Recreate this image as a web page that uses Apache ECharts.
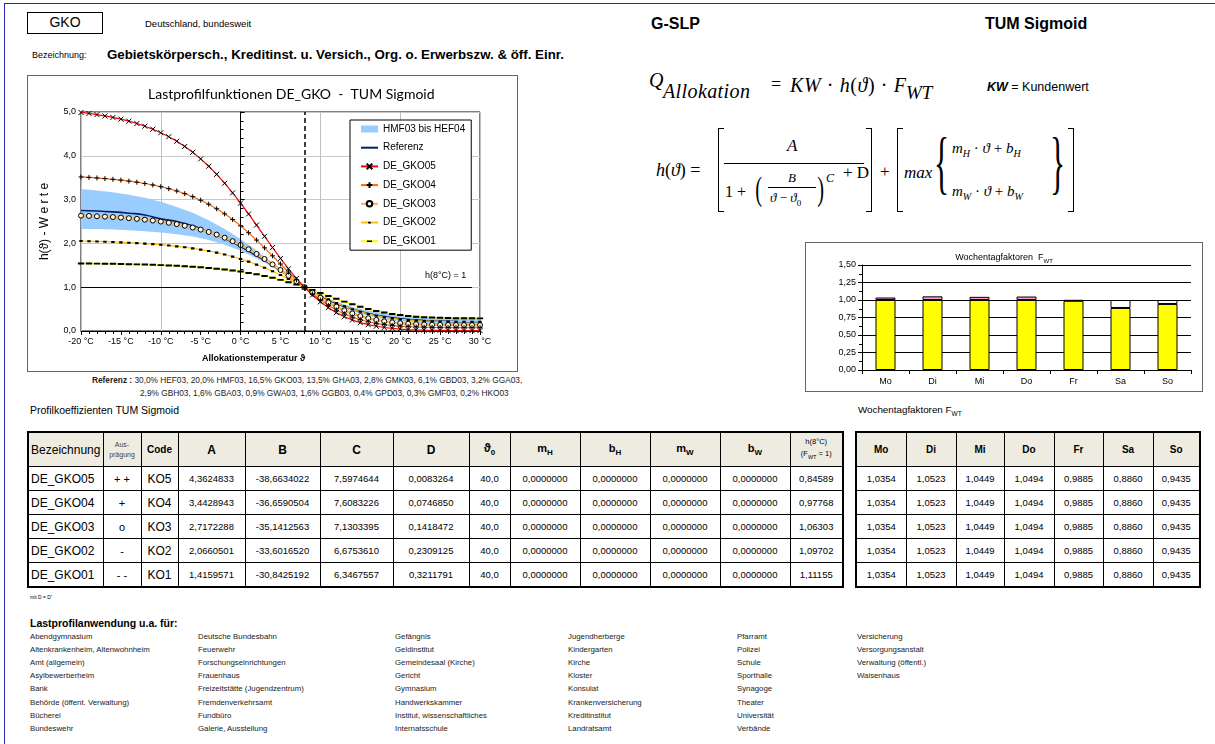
<!DOCTYPE html>
<html lang="de">
<head>
<meta charset="utf-8">
<script src="https://cdn.jsdelivr.net/npm/echarts@6/dist/echarts.min.js"></script>
<style>
html,body{margin:0;padding:0;}
body{width:1215px;height:744px;position:relative;background:#fff;font-family:"Liberation Sans",Arial,sans-serif;color:#000;overflow:hidden;}
.a{position:absolute;white-space:nowrap;line-height:1;}
.m{font-family:"Liberation Serif","DejaVu Serif",serif;font-style:italic;}
.u{font-style:normal;}
.brk{position:absolute;border:1.5px solid #000;width:6px;box-sizing:border-box;}
.bl{border-right:none;}
.br{border-left:none;}
table.t{border-collapse:collapse;table-layout:fixed;position:absolute;border:2px solid #000;}
table.t td{border:1px solid #000;text-align:center;vertical-align:middle;padding:0;overflow:hidden;white-space:nowrap;}
table.t tr.h td{background:#EEECE1;height:33px;}
table.t tr.b td{height:23px;}
</style>
</head>
<body>
<div class="a" style="left:4px;top:3px;width:1211px;height:0;border-top:1.5px solid #2b2bb0;"></div>
<div class="a" style="left:4px;top:3px;width:0;height:741px;border-left:1.5px solid #2b2bb0;"></div>

<div class="a" style="left:27px;top:12px;width:76px;height:22px;box-sizing:border-box;border:1.5px solid #000;font-size:14px;text-align:center;line-height:19px;">GKO</div>
<div class="a" style="left:145px;top:19px;font-size:9.5px;">Deutschland, bundesweit</div>
<div class="a" style="left:32px;top:51px;font-size:9px;">Bezeichnung:</div>
<div class="a" style="left:107px;top:48px;font-size:13.3px;font-weight:bold;">Gebietskörpersch., Kreditinst. u. Versich., Org. o. Erwerbszw. &amp; öff. Einr.</div>

<div class="a" style="left:651px;top:16px;font-size:16px;font-weight:bold;">G-SLP</div>
<div class="a" style="left:985px;top:16px;font-size:16px;font-weight:bold;">TUM Sigmoid</div>

<!-- Q formula -->
<div class="a m" style="left:649px;top:70px;font-size:20px;">Q</div>
<div class="a m" style="left:663px;top:81px;font-size:20px;letter-spacing:0.4px;">Allokation</div>
<div class="a m u" style="left:771px;top:75px;font-size:18px;">=</div>
<div class="a m" style="left:790px;top:75px;font-size:20px;letter-spacing:0.6px;">KW <span class="u">·</span> h<span class="u">(</span>ϑ<span class="u">)</span> <span class="u">·</span> F</div>
<div class="a m" style="left:906px;top:83px;font-size:19px;">WT</div>
<div class="a" style="left:987px;top:81px;font-size:12.5px;"><b><i>KW</i></b> = Kundenwert</div>

<!-- h formula -->
<div class="a m" style="left:656px;top:161px;font-size:18px;">h<span class="u">(</span>ϑ<span class="u">) =</span></div>
<div class="brk bl" style="left:718px;top:128px;height:84px;"></div>
<div class="a m" style="left:787px;top:137px;font-size:17px;">A</div>
<div class="a" style="left:724px;top:163px;width:140px;height:0;border-top:1px solid #000;"></div>
<div class="a m u" style="left:725px;top:184px;font-size:16px;">1 +</div>
<div class="a m u" style="left:753px;top:172px;font-size:34px;transform:scaleX(0.6);">(</div>
<div class="a m" style="left:788px;top:171px;font-size:13px;">B</div>
<div class="a" style="left:768px;top:187px;width:48px;height:0;border-top:1px solid #000;"></div>
<div class="a m" style="left:770px;top:191px;font-size:13px;">ϑ <span class="u">−</span> ϑ<sub style="font-size:9px;font-style:normal">0</sub></div>
<div class="a m u" style="left:815px;top:172px;font-size:34px;transform:scaleX(0.6);">)</div>
<div class="a m" style="left:826px;top:172px;font-size:12px;">C</div>
<div class="a m u" style="left:843px;top:164px;font-size:17px;">+ D</div>
<div class="brk br" style="left:866px;top:128px;height:84px;"></div>
<div class="a m u" style="left:880px;top:163px;font-size:17px;">+</div>
<div class="brk bl" style="left:897px;top:128px;height:84px;"></div>
<div class="a m" style="left:904px;top:164px;font-size:17px;">max</div>
<div class="a m u" style="left:934px;top:128px;font-size:70px;transform:scaleX(0.45);transform-origin:left top;">{</div>
<div class="a m" style="left:952px;top:141px;font-size:15px;">m<sub style="font-size:10px">H</sub> <span class="u">·</span> ϑ <span class="u">+</span> b<sub style="font-size:10px">H</sub></div>
<div class="a m" style="left:952px;top:184px;font-size:15px;">m<sub style="font-size:10px">W</sub> <span class="u">·</span> ϑ <span class="u">+</span> b<sub style="font-size:10px">W</sub></div>
<div class="a m u" style="left:1050px;top:128px;font-size:70px;transform:scaleX(0.45);transform-origin:left top;">}</div>
<div class="brk br" style="left:1068px;top:128px;height:84px;"></div>

<!-- main chart -->
<div class="a" style="left:27px;top:75px;width:491px;height:297px;box-sizing:border-box;border:1.5px solid #666;"></div>
<div id="mainChart" class="a" style="left:28px;top:75px;width:490px;height:297px;"></div>

<div class="a" style="left:92px;top:376px;font-size:8.3px;color:#222;"><b>Referenz :</b> 30,0% HEF03, 20,0% HMF03, 16,5% GKO03, 13,5% GHA03, 2,8% GMK03, 6,1% GBD03, 3,2% GGA03,</div>
<div class="a" style="left:140px;top:389px;font-size:8.3px;color:#222;">2,9% GBH03, 1,6% GBA03, 0,9% GWA03, 1,6% GGB03, 0,4% GPD03, 0,3% GMF03, 0,2% HKO03</div>
<div class="a" style="left:30px;top:405px;font-size:10.5px;">Profilkoeffizienten TUM Sigmoid</div>

<!-- bar chart -->
<div class="a" style="left:805px;top:242px;width:398px;height:150px;box-sizing:border-box;border:1.5px solid #666;"></div>
<div id="barChart" class="a" style="left:805px;top:242px;width:398px;height:150px;"></div>
<div class="a" style="left:858px;top:405px;font-size:9.8px;">Wochentagfaktoren F<sub style="font-size:6.5px">WT</sub></div>

<div id="tables"></div>
<div class="a" style="left:30px;top:595px;font-size:5px;">mit D = D'</div>
<div class="a" style="left:30px;top:618px;font-size:10.5px;font-weight:bold;">Lastprofilanwendung u.a. für:</div>
<div id="uses"></div>

<script>
// ---------- data: main chart ----------
const temps = [-20,-19,-18,-17,-16,-15,-14,-13,-12,-11,-10,-9,-8,-7,-6,-5,-4,-3,-2,-1,0,1,2,3,4,5,6,7,8,9,10,11,12,13,14,15,16,17,18,19,20,21,22,23,24,25,26,27,28,29,30];
const gko05 = [4.990,4.967,4.941,4.910,4.876,4.836,4.790,4.737,4.676,4.607,4.527,4.436,4.332,4.214,4.080,3.930,3.762,3.577,3.374,3.154,2.920,2.673,2.419,2.162,1.906,1.657,1.421,1.201,1.000,0.821,0.665,0.531,0.419,0.326,0.251,0.191,0.144,0.108,0.080,0.059,0.044,0.033,0.025,0.020,0.016,0.014,0.012,0.011,0.011,0.010,0.010];
const gko04 = [3.517,3.506,3.494,3.480,3.463,3.444,3.422,3.397,3.368,3.334,3.295,3.249,3.197,3.136,3.066,2.986,2.895,2.791,2.675,2.545,2.401,2.244,2.076,1.899,1.716,1.530,1.346,1.168,1.000,0.845,0.706,0.583,0.478,0.390,0.317,0.258,0.211,0.175,0.147,0.127,0.111,0.100,0.092,0.087,0.083,0.080,0.079,0.078,0.077,0.077,0.077];
const gko03 = [2.634,2.628,2.620,2.611,2.601,2.589,2.575,2.560,2.542,2.522,2.498,2.471,2.440,2.404,2.363,2.315,2.261,2.200,2.130,2.051,1.963,1.866,1.759,1.644,1.521,1.393,1.262,1.130,1.000,0.875,0.759,0.652,0.556,0.472,0.401,0.341,0.292,0.252,0.221,0.197,0.179,0.165,0.155,0.148,0.143,0.139,0.137,0.136,0.135,0.134,0.134];
const gko02 = [2.055,2.051,2.046,2.040,2.034,2.026,2.018,2.008,1.997,1.984,1.970,1.953,1.934,1.913,1.888,1.859,1.827,1.790,1.747,1.699,1.646,1.585,1.518,1.445,1.365,1.280,1.189,1.095,1.000,0.905,0.812,0.723,0.641,0.565,0.498,0.440,0.391,0.349,0.316,0.289,0.268,0.252,0.239,0.230,0.224,0.219,0.216,0.214,0.212,0.212,0.211];
const gko01 = [1.544,1.542,1.540,1.538,1.535,1.531,1.527,1.523,1.518,1.513,1.506,1.499,1.490,1.481,1.469,1.457,1.442,1.425,1.406,1.383,1.358,1.328,1.295,1.258,1.216,1.169,1.117,1.061,1.000,0.936,0.870,0.803,0.736,0.672,0.611,0.555,0.504,0.460,0.423,0.391,0.366,0.345,0.329,0.317,0.308,0.302,0.297,0.294,0.292,0.291,0.290];

const bandTemps = [-20,-18,-16,-14,-12,-10,-8,-6,-4,-2,0,2,4,6,8,10,12,14,16,18,20,22,24,26,28,30];
const hmf03    = [2.33,2.33,2.32,2.30,2.28,2.25,2.21,2.16,2.08,1.97,1.83,1.66,1.46,1.24,1.00,0.82,0.67,0.55,0.47,0.41,0.37,0.34,0.32,0.31,0.30,0.29];
const hef04    = [3.24,3.21,3.17,3.11,3.04,2.95,2.83,2.70,2.53,2.33,2.10,1.84,1.56,1.28,1.00,0.78,0.60,0.45,0.35,0.27,0.22,0.18,0.16,0.14,0.13,0.12];
const referenz = [2.75,2.74,2.72,2.69,2.65,2.56,2.50,2.40,2.26,2.11,1.93,1.72,1.50,1.25,1.00,0.80,0.63,0.50,0.40,0.33,0.28,0.25,0.23,0.22,0.21,0.21];

const normTemp = 8;      // h(8°C) = 1
const zeroTemp = 0;
const normLineEnd = 29;

// ---------- data: weekday factors ----------
const weekdays = ['Mo','Di','Mi','Do','Fr','Sa','So'];
const fwt = [1.0354,1.0523,1.0449,1.0494,0.9885,0.8860,0.9435];
const barTicks = [0,0.25,0.5,0.75,1,1.25,1.5];

// ---------- data: coefficient table ----------
const profileNames = ['DE_GKO05','DE_GKO04','DE_GKO03','DE_GKO02','DE_GKO01'];
const auspraegung = ['+ +','+','o','-','- -'];
const codes = ['KO5','KO4','KO3','KO2','KO1'];
const coefA = [4.3624833,3.4428943,2.7172288,2.0660501,1.4159571];
const coefB = [-38.6634022,-36.6590504,-35.1412563,-33.6016520,-30.8425192];
const coefC = [7.5974644,7.6083226,7.1303395,6.6753610,6.3467557];
const coefD = [0.0083264,0.0746850,0.1418472,0.2309125,0.3211791];
const theta0 = [40,40,40,40,40];
const coefMH = [0,0,0,0,0];
const coefBH = [0,0,0,0,0];
const coefMW = [0,0,0,0,0];
const coefBW = [0,0,0,0,0];
const h8 = [0.84589,0.97768,1.06303,1.09702,1.11155];

// ---------- data: usage list ----------
const useCol1 = ['Abendgymnasium','Altenkrankenheim, Altenwohnheim','Amt (allgemein)','Asylbewerberheim','Bank','Behörde (öffent. Verwaltung)','Bücherei','Bundeswehr'];
const useCol2 = ['Deutsche Bundesbahn','Feuerwehr','Forschungseinrichtungen','Frauenhaus','Freizeitstätte (Jugendzentrum)','Fremdenverkehrsamt','Fundbüro','Galerie, Ausstellung'];
const useCol3 = ['Gefängnis','Geldinstitut','Gemeindesaal (Kirche)','Gericht','Gymnasium','Handwerkskammer','Institut, wissenschaftliches','Internatsschule'];
const useCol4 = ['Jugendherberge','Kindergarten','Kirche','Kloster','Konsulat','Krankenversicherung','Kreditinstitut','Landratsamt'];
const useCol5 = ['Pfarramt','Polizei','Schule','Sporthalle','Synagoge','Theater','Universität','Verbände'];
const useCol6 = ['Versicherung','Versorgungsanstalt','Verwaltung (öffentl.)','Waisenhaus'];

// ---------- helpers ----------
const de = (v, d) => v.toFixed(d).replace('.', ',');
const zip = (xs, ys) => xs.map((x, i) => [x, ys[i]]);
const FONT = '"Liberation Sans", Arial, sans-serif';
// marker shapes (10x10 frame so legend and series scale alike)
const SYM_X = 'path://M0,0L10,10M10,0L0,10';
const SYM_PLUS = 'path://M5,0L5,10M0,5L10,5';
const SYM_DASH = 'path://M0,0L0.01,0M10,10L9.99,10M0.5,3.7L9.5,3.7L9.5,6.5L0.5,6.5Z';
const SYM_DOT = 'path://M0,0L0.01,0M10,10L9.99,10M2.6,3.6L7.4,3.6L7.4,6.6L2.6,6.6Z';

// ---------- main chart ----------
const mainChart = echarts.init(document.getElementById('mainChart'));
mainChart.setOption({
  animation: false,
  textStyle: { fontFamily: FONT },
  title: {
    text: 'Lastprofilfunktionen DE_GKO  -  TUM Sigmoid',
    left: 115, top: 7,
    textStyle: { fontSize: 14, fontWeight: 'normal', color: '#000', fontFamily: 'Lato, "Open Sans", sans-serif' }
  },
  grid: { left: 53, top: 37, width: 399, height: 219, show: true, borderColor: '#000', borderWidth: 1 },
  legend: {
    data: [
      { name: 'HMF03 bis HEF04', icon: 'rect', itemStyle: { color: '#99CCFF' } },
      { name: 'Referenz', itemStyle: { opacity: 0 } },
      'DE_GKO05', 'DE_GKO04', 'DE_GKO03', 'DE_GKO02', 'DE_GKO01'
    ],
    orient: 'vertical', left: 322, top: 45,
    backgroundColor: '#fff', borderColor: '#000', borderWidth: 1,
    padding: [3, 6, 3, 10],
    itemWidth: 17, itemHeight: 7, itemGap: 6.7,
    textStyle: { fontSize: 10, color: '#000', lineHeight: 12, fontFamily: FONT },
    selectedMode: false
  },
  xAxis: [
    {
      type: 'value', min: -20, max: 30, interval: 5,
      axisLine: { show: true, lineStyle: { color: '#000', width: 1 } },
      axisTick: { show: true, length: 4, lineStyle: { color: '#000' } },
      minorTick: { show: true, splitNumber: 5, length: 3, lineStyle: { color: '#000' } },
      splitLine: { show: false },
      axisLabel: { fontSize: 9, color: '#000', margin: 6, formatter: v => v + ' °C' }
    },
    {
      type: 'value', min: -20, max: 30, interval: 10, position: 'bottom',
      axisLine: { show: false }, axisTick: { show: false }, axisLabel: { show: false },
      splitLine: { show: true, lineStyle: { color: '#C0C0C0', width: 1 } }
    }
  ],
  yAxis: {
    type: 'value', min: 0, max: 5, interval: 1,
    name: 'h(ϑ) - W e r t e', nameLocation: 'middle', nameGap: 30, nameRotate: 90,
    nameTextStyle: { fontSize: 12, color: '#000' },
    axisLine: { show: true, lineStyle: { color: '#000', width: 1 } },
    axisTick: { show: true, inside: true, length: 4, lineStyle: { color: '#000' } },
    minorTick: { show: true, splitNumber: 5, length: 3, lineStyle: { color: '#000' } },
    splitLine: { show: true, lineStyle: { color: '#C8C8C8', width: 1 } },
    axisLabel: { fontSize: 9, color: '#000', margin: 5, formatter: v => de(v, 1) }
  },
  graphic: [
    { type: 'text', left: 397, top: 196, style: { text: 'h(8°C) = 1', fontSize: 9, fill: '#000', fontFamily: FONT } },
    { type: 'text', left: 174, top: 279, style: { text: 'Allokationstemperatur ϑ', fontSize: 9, fontWeight: 'bold', fill: '#000', fontFamily: FONT } }
  ],
  series: [
    { name: 'HMF03 bis HEF04', type: 'custom', coordinateSystem: 'cartesian2d', xAxisIndex: 0, yAxisIndex: 0,
      data: zip(bandTemps, hmf03), silent: true, z: 1, clip: true, itemStyle: { color: '#99CCFF' },
      renderItem: (params, api) => {
        if (params.dataIndex !== 0) return null;
        const upper = bandTemps.map((t, i) => api.coord([t, Math.max(hmf03[i], hef04[i])]));
        const lower = bandTemps.map((t, i) => api.coord([t, Math.min(hmf03[i], hef04[i])])).reverse();
        return { type: 'polygon', shape: { points: upper.concat(lower) }, style: { fill: '#99CCFF', stroke: null } };
      } },
    { name: 'Referenz', type: 'line', data: zip(bandTemps, referenz), symbol: 'none', smooth: true,
      lineStyle: { color: '#002060', width: 1.6 }, itemStyle: { color: '#002060' }, z: 3,
      markLine: {
        silent: true, symbol: ['none', 'none'], label: { show: false },
        data: [
          { xAxis: zeroTemp, lineStyle: { color: '#000', width: 1, type: 'solid' } },
          { xAxis: normTemp, lineStyle: { color: '#000', width: 1.5, type: [5, 3] } },
          [ { coord: [-20, 1], lineStyle: { color: '#000', width: 1, type: 'solid' } }, { coord: [normLineEnd, 1] } ]
        ]
      } },
    { name: 'DE_GKO01', type: 'line', data: zip(temps, gko01), symbol: SYM_DASH, symbolSize: 7,
      lineStyle: { color: '#FFFF00', width: 1.5 }, itemStyle: { color: '#000' }, z: 4 },
    { name: 'DE_GKO02', type: 'line', data: zip(temps, gko02), symbol: SYM_DOT, symbolSize: 7,
      lineStyle: { color: '#FFC000', width: 1.2 }, itemStyle: { color: '#000' }, z: 4 },
    { name: 'DE_GKO03', type: 'line', data: zip(temps, gko03), symbol: 'circle', symbolSize: 5,
      lineStyle: { color: '#FFB050', width: 2.5 }, itemStyle: { color: '#FFF4E0', borderColor: '#000', borderWidth: 1 }, z: 4 },
    { name: 'DE_GKO04', type: 'line', data: zip(temps, gko04), symbol: SYM_PLUS, symbolSize: 5,
      lineStyle: { color: '#FF6600', width: 1.2 }, itemStyle: { color: '#000', borderColor: '#000', borderWidth: 1 }, z: 4 },
    { name: 'DE_GKO05', type: 'line', data: zip(temps, gko05), symbol: SYM_X, symbolSize: 5,
      lineStyle: { color: '#FF0000', width: 1.2 }, itemStyle: { color: '#000', borderColor: '#000', borderWidth: 1 }, z: 4 }
  ]
});

// ---------- bar chart ----------
const fwtBase = fwt.map(v => Math.min(v, 1));
const fwtOver = fwt.map(v => v > 1 ? v - 1 : null);
const fwtGap = fwt.map(v => v < 1 ? 1 - v : null);
const barChart = echarts.init(document.getElementById('barChart'));
barChart.setOption({
  animation: false,
  textStyle: { fontFamily: FONT },
  title: {
    text: 'Wochentagfaktoren  F{s|WT}', left: 'center', top: 5,
    textStyle: { fontSize: 9, fontWeight: 'normal', color: '#000', fontFamily: FONT,
      rich: { s: { fontSize: 6, padding: [6, 0, 0, 0], fontFamily: FONT } } }
  },
  grid: { left: 57, top: 23, width: 329, height: 105 },
  xAxis: {
    type: 'category', data: weekdays,
    axisLine: { show: true, lineStyle: { color: '#000' } },
    axisTick: { show: true, length: 4, lineStyle: { color: '#000' } },
    axisLabel: { fontSize: 9, color: '#000', margin: 7 }
  },
  yAxis: {
    type: 'value', min: barTicks[0], max: barTicks[barTicks.length - 1], interval: barTicks[1] - barTicks[0],
    axisLine: { show: true, lineStyle: { color: '#000' } },
    axisTick: { show: true, length: 4, lineStyle: { color: '#000' } },
    minorTick: { show: true, splitNumber: 2, length: 3, lineStyle: { color: '#000' } },
    splitLine: { show: true, lineStyle: { color: '#000', width: 1 } },
    axisLabel: { fontSize: 9, color: '#000', margin: 6, formatter: v => de(v, 2) }
  },
  series: [
    { type: 'bar', stack: 'f', data: fwtBase, barWidth: 20,
      itemStyle: { color: '#FFFF00', borderColor: '#000', borderWidth: 1 } },
    { type: 'bar', stack: 'f', data: fwtOver, barWidth: 20,
      itemStyle: { color: '#FF99CC', borderColor: '#000', borderWidth: 1 } },
    { type: 'bar', stack: 'f', data: fwtGap, barWidth: 20,
      itemStyle: { color: '#FFFFFF', borderColor: '#000', borderWidth: 1 } }
  ]
});

// ---------- tables ----------
(function () {
  const cw1 = [75, 38, 37, 67, 75, 73, 76, 41, 70, 70, 70, 70, 53];
  const cw2 = [50, 50, 48, 50, 49, 50, 47];
  let h = '<table class="t" style="left:27px;top:431px;width:' + cw1.reduce((a, b) => a + b, 0) + 'px">';
  h += '<colgroup>' + cw1.map(w => '<col style="width:' + w + 'px">').join('') + '</colgroup>';
  const sub = s => '<sub style="font-size:8px">' + s + '</sub>';
  h += '<tr class="h">' +
    '<td style="font-size:12px">Bezeichnung</td>' +
    '<td style="font-size:7px;color:#444;line-height:10px">Aus-<br>prägung</td>' +
    '<td style="font-size:10px;font-weight:bold">Code</td>' +
    ['A', 'B', 'C', 'D'].map(s => '<td style="font-size:12px;font-weight:bold">' + s + '</td>').join('') +
    '<td style="font-size:12px;font-weight:bold">ϑ' + sub('0') + '</td>' +
    '<td style="font-size:11px;font-weight:bold">m' + sub('H') + '</td>' +
    '<td style="font-size:11px;font-weight:bold">b' + sub('H') + '</td>' +
    '<td style="font-size:11px;font-weight:bold">m' + sub('W') + '</td>' +
    '<td style="font-size:11px;font-weight:bold">b' + sub('W') + '</td>' +
    '<td style="font-size:7.5px;line-height:12px">h(8°C)<br>(F<sub style="font-size:5.5px">WT</sub> = 1)</td></tr>';
  profileNames.forEach((n, i) => {
    const num = v => '<td style="font-size:9.5px">' + v + '</td>';
    h += '<tr class="b">' +
      '<td style="font-size:12px;text-align:left;padding-left:2px">' + n + '</td>' +
      '<td style="font-size:11px">' + auspraegung[i] + '</td>' +
      '<td style="font-size:12px">' + codes[i] + '</td>' +
      num(de(coefA[i], 7)) + num(de(coefB[i], 7)) + num(de(coefC[i], 7)) + num(de(coefD[i], 7)) +
      num(de(theta0[i], 1)) + num(de(coefMH[i], 7)) + num(de(coefBH[i], 7)) + num(de(coefMW[i], 7)) + num(de(coefBW[i], 7)) +
      num(de(h8[i], 5)) + '</tr>';
  });
  h += '</table>';
  let g = '<table class="t" style="left:855px;top:431px;width:' + cw2.reduce((a, b) => a + b, 0) + 'px">';
  g += '<colgroup>' + cw2.map(w => '<col style="width:' + w + 'px">').join('') + '</colgroup>';
  g += '<tr class="h">' + weekdays.map(d => '<td style="font-size:10px;font-weight:bold">' + d + '</td>').join('') + '</tr>';
  profileNames.forEach(() => {
    g += '<tr class="b">' + fwt.map(v => '<td style="font-size:9.5px">' + de(v, 4) + '</td>').join('') + '</tr>';
  });
  g += '</table>';
  document.getElementById('tables').innerHTML = h + g;

  const cols = [useCol1, useCol2, useCol3, useCol4, useCol5, useCol6];
  const colX = [30, 198, 395, 568, 737, 857];
  let u = '';
  cols.forEach((c, ci) => c.forEach((s, ri) => {
    u += '<div class="a" style="left:' + colX[ci] + 'px;top:' + (633 + ri * 13.1) + 'px;font-size:7.8px;color:#222">' + s + '</div>';
  }));
  document.getElementById('uses').innerHTML = u;
})();
</script>
</body>
</html>
